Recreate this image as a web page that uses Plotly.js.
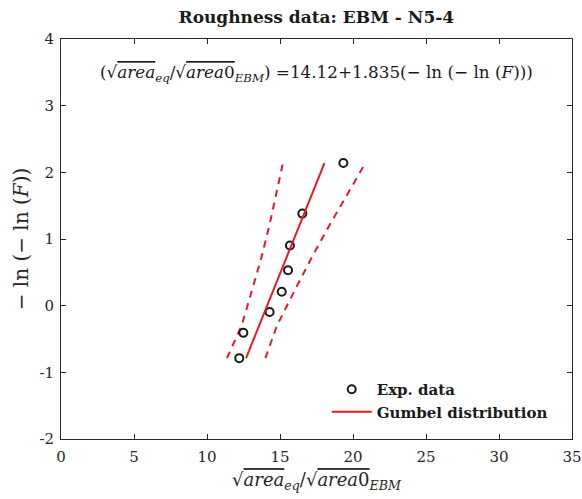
<!DOCTYPE html>
<html>
<head>
<meta charset="utf-8">
<script src="https://cdn.plot.ly/plotly-3.0.1.min.js"></script>
<style>html,body{margin:0;padding:0;background:#fff;}#chart{width:582px;height:499px;}</style>
</head>
<body>
<div id="chart"></div>
<script>
// Experimental data (x = sqrt(area_eq)/sqrt(area0_EBM), y = -ln(-ln F))
var expX = [12.21, 12.49, 14.29, 15.12, 15.55, 15.68, 16.53, 19.34];
var expY = [-0.787, -0.408, -0.094, 0.209, 0.531, 0.903, 1.381, 2.139];
// Fitted Gumbel line: x = 14.12 + 1.835 y
var gumbelY = [-0.787, 2.139];
var gumbelX = [12.676, 18.045];
// Confidence bounds (dashed)
var boundY = [-0.787, -0.3, 0.2, 0.7, 1.2, 1.7, 2.139];
var lowerX = [11.37, 12.37, 13.04, 13.70, 14.27, 14.79, 15.20];
var upperX = [14.00, 14.79, 15.94, 17.12, 18.37, 19.69, 20.85];
// Axes
var xTickVals = [0, 5, 10, 15, 20, 25, 30, 35];
var xTickText = ['0', '5', '10', '15', '20', '25', '30', '35'];
var yTickVals = [-2, -1, 0, 1, 2, 3, 4];
var yTickText = ['-2', '-1', '0', '1', '2', '3', '4'];

var red = 'rgb(228,26,38)';
var serif = 'DejaVu Serif, Liberation Serif, serif';
var axisCol = '#262626';
var textCol = '#1a1a1a';

var traces = [
  {x: lowerX, y: boundY, mode: 'lines', line: {color: red, width: 2, dash: '7px,6px'}, showlegend: false, hoverinfo: 'skip'},
  {x: upperX, y: boundY, mode: 'lines', line: {color: red, width: 2, dash: '7px,6px'}, showlegend: false, hoverinfo: 'skip'},
  {x: expX, y: expY, mode: 'markers', name: '<b>Exp. data</b>',
   marker: {symbol: 'circle-open', size: 8, color: '#1a1a1a', line: {width: 2, color: '#1a1a1a'}}},
  {x: gumbelX, y: gumbelY, mode: 'lines', name: '<b>Gumbel distribution</b>', line: {color: red, width: 2}}
];

var ov = function(s){ return '<span style="text-decoration:overline">' + s + '</span>'; };
var ratio = '√' + ov('<i>area</i>') + '<sub><i>eq</i></sub>/√' + ov('<i>area</i>0') + '<sub><i>EBM</i></sub>';

var layout = {
  width: 582, height: 499,
  margin: {l: 61, r: 10, t: 39, b: 60},
  paper_bgcolor: '#fff', plot_bgcolor: '#fff',
  font: {family: serif, color: axisCol, size: 15},
  title: {text: '<b>Roughness data: EBM - N5-4</b>', x: 0.5435, xanchor: 'center', y: 0.978, yanchor: 'top',
          font: {family: serif, size: 17, color: textCol}},
  xaxis: {range: [0, 35], tickvals: xTickVals, ticktext: xTickText, ticks: 'inside', ticklen: 5,
          tickcolor: axisCol, showline: true, linecolor: axisCol, linewidth: 1, mirror: 'ticks',
          showgrid: false, zeroline: false, tickfont: {size: 15, family: serif, color: axisCol},
          ticklabelstandoff: 4,
          title: {text: ratio, font: {size: 18, family: serif, color: axisCol}, standoff: 8}},
  yaxis: {range: [-2, 4], tickvals: yTickVals, ticktext: yTickText, ticks: 'inside', ticklen: 5,
          tickcolor: axisCol, showline: true, linecolor: axisCol, linewidth: 1, mirror: 'ticks',
          showgrid: false, zeroline: false, tickfont: {size: 15, family: serif, color: axisCol},
          ticklabelstandoff: 3,
          title: {text: '− ln (− ln (<i>F</i>))', font: {size: 20, family: serif, color: axisCol}, standoff: 5}},
  legend: {x: 0.52, y: 0.165, xanchor: 'left', yanchor: 'top', bgcolor: 'rgba(255,255,255,0)',
           borderwidth: 0, font: {family: serif, size: 15, color: textCol}, tracegroupgap: 0,
           itemwidth: 40},
  annotations: [{
    xref: 'paper', yref: 'paper', x: 0.5, y: 0.913, xanchor: 'center', yanchor: 'middle', showarrow: false,
    text: '(' + ratio + ') =14.12+1.835(− ln (− ln (<i>F</i>)))',
    font: {family: serif, size: 16.8, color: textCol}
  }]
};

Plotly.newPlot('chart', traces, layout, {displayModeBar: false, staticPlot: true});
</script>
</body>
</html>
